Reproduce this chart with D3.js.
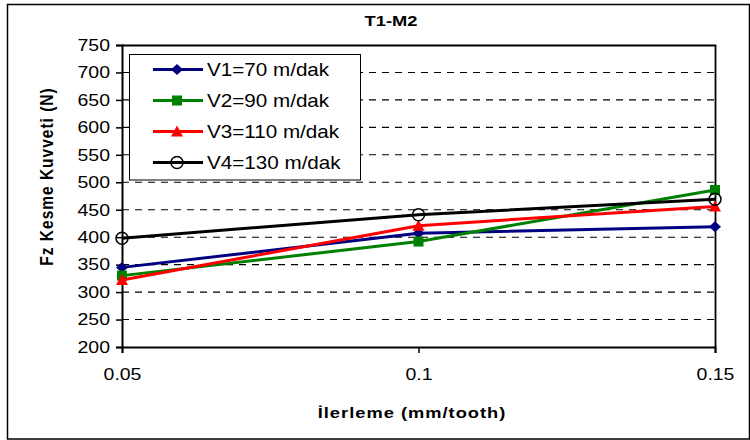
<!DOCTYPE html>
<html>
<head>
<meta charset="utf-8">
<script src="https://cdn.jsdelivr.net/npm/d3@7"></script>
<style>
  html, body { margin: 0; padding: 0; background: #fff; }
  svg { display: block; font-family: Arial, "Liberation Sans", sans-serif; }
</style>
</head>
<body>
<svg id="chart" width="750" height="440"></svg>
<script>
// Feed rate (mm/tooth) on the x axis
const feeds = [0.05, 0.1, 0.15];
const xTickLabels = ["0.05", "0.1", "0.15"];
const yTicks = [200, 250, 300, 350, 400, 450, 500, 550, 600, 650, 700, 750];

// Fz cutting force (N) for each cutting speed
const seriesNames = ["V1=70 m/dak", "V2=90 m/dak", "V3=110 m/dak", "V4=130 m/dak"];
const v1 = [345, 407, 419];
const v2 = [330, 392, 486];
const v3 = [322, 421, 456];
const v4 = [398, 441, 469];
const seriesValues = [v1, v2, v3, v4];
const seriesColors = ["#000080", "#008000", "#ff0000", "#000000"];
const seriesMarkers = ["diamond", "square", "triangle", "circle"];

// text is drawn slightly wide
const SX = 1.18;
const FONT = "Arial, 'Liberation Sans', sans-serif";

const svg = d3.select("#chart");

// outer frame
svg.append("rect").attr("x", 7.5).attr("y", 4.5).attr("width", 742).attr("height", 434.5)
  .attr("fill", "#fff").attr("stroke", "#000").attr("stroke-width", 1.5);

const plotL = 122, plotR = 715, plotT = 45, plotB = 347;
const x = d3.scaleLinear().domain([0.05, 0.15]).range([plotL, plotR]);
const y = d3.scaleLinear().domain([200, 750]).range([plotB, plotT]);

// dashed gridlines
svg.append("g").selectAll("line")
  .data(yTicks.filter(v => v > 200 && v < 750))
  .join("line")
  .attr("x1", plotL).attr("x2", plotR)
  .attr("y1", d => y(d)).attr("y2", d => y(d))
  .attr("stroke", "#000").attr("stroke-width", 1.1).attr("stroke-dasharray", "7,6");

// plot frame (top and right)
svg.append("path")
  .attr("d", `M${plotL},${plotT + 0.5}H${plotR + 0.5}V${plotB}`)
  .attr("fill", "none").attr("stroke", "#000").attr("stroke-width", 1.8);

// y axis
const yAxis = d3.axisLeft(y).tickValues(yTicks).tickSize(6).tickPadding(6).tickFormat(d3.format("d"));
const gy = svg.append("g").attr("transform", `translate(${plotL},0)`).call(yAxis);
gy.select(".domain").attr("stroke", "#000").attr("stroke-width", 2);
gy.selectAll(".tick line").attr("stroke", "#000").attr("stroke-width", 1.5);
gy.selectAll(".tick text").attr("font-size", 16.5).attr("fill", "#000").attr("font-family", FONT)
  .attr("x", -12 / SX).attr("transform", `scale(${SX},1)`);

// x axis
const xAxis = d3.axisBottom(x).tickValues(feeds).tickSize(6).tickPadding(15)
  .tickFormat((d, i) => xTickLabels[i]);
const gx = svg.append("g").attr("transform", `translate(0,${plotB})`).call(xAxis);
gx.select(".domain").attr("stroke", "#000").attr("stroke-width", 2);
gx.selectAll(".tick line").attr("stroke", "#000").attr("stroke-width", 1.5);
gx.selectAll(".tick text").attr("font-size", 16.5).attr("fill", "#000").attr("font-family", FONT)
  .attr("transform", `scale(${SX},1)`);

// titles
svg.append("text").attr("transform", `translate(391,26) scale(${SX},1)`).attr("text-anchor", "middle")
  .attr("font-size", 15.5).attr("font-weight", "bold").text("T1-M2");
svg.append("text").attr("transform", `translate(412,418) scale(${SX},1)`).attr("text-anchor", "middle")
  .attr("font-size", 15.5).attr("font-weight", "bold").attr("letter-spacing", 0.85)
  .text("İlerleme (mm/tooth)");
svg.append("text").attr("transform", `translate(53,176.5) scale(${SX},1) rotate(-90)`)
  .attr("text-anchor", "middle").attr("font-size", 15.5).attr("font-weight", "bold")
  .attr("letter-spacing", 1).text("Fz Kesme Kuvveti (N)");

function drawMarker(g, type, color, cx, cy) {
  if (type === "diamond") {
    g.append("path").attr("d", `M${cx},${cy - 5.5}L${cx + 6},${cy}L${cx},${cy + 5.5}L${cx - 6},${cy}Z`)
      .attr("fill", color);
  } else if (type === "square") {
    g.append("rect").attr("x", cx - 5).attr("y", cy - 5).attr("width", 10).attr("height", 10)
      .attr("fill", color);
  } else if (type === "triangle") {
    g.append("path").attr("d", `M${cx},${cy - 6}L${cx + 6},${cy + 5}L${cx - 6},${cy + 5}Z`)
      .attr("fill", color);
  } else {
    g.append("circle").attr("cx", cx).attr("cy", cy).attr("r", 6)
      .attr("fill", "none").attr("stroke", color).attr("stroke-width", 1.5);
  }
}

// series lines and markers
const line = d3.line().x((d, i) => x(feeds[i])).y(d => y(d));
seriesValues.forEach((vals, s) => {
  const g = svg.append("g");
  g.append("path").datum(vals).attr("d", line)
    .attr("fill", "none").attr("stroke", seriesColors[s]).attr("stroke-width", 3);
  vals.forEach((v, i) => drawMarker(g, seriesMarkers[s], seriesColors[s], x(feeds[i]), y(v)));
});

// legend
const lg = svg.append("g");
lg.append("rect").attr("x", 129.5).attr("y", 54.5).attr("width", 231).attr("height", 125.5)
  .attr("fill", "#fff").attr("stroke", "#000").attr("stroke-width", 1);
seriesNames.forEach((name, s) => {
  const cy = 69.5 + s * 31;
  lg.append("line").attr("x1", 153).attr("x2", 203).attr("y1", cy).attr("y2", cy)
    .attr("stroke", seriesColors[s]).attr("stroke-width", 3);
  drawMarker(lg, seriesMarkers[s], seriesColors[s], 177, cy);
  lg.append("text").attr("transform", `translate(207,${cy + 6.3}) scale(${SX},1)`)
    .attr("font-size", 17.5).text(name);
});
</script>
</body>
</html>
